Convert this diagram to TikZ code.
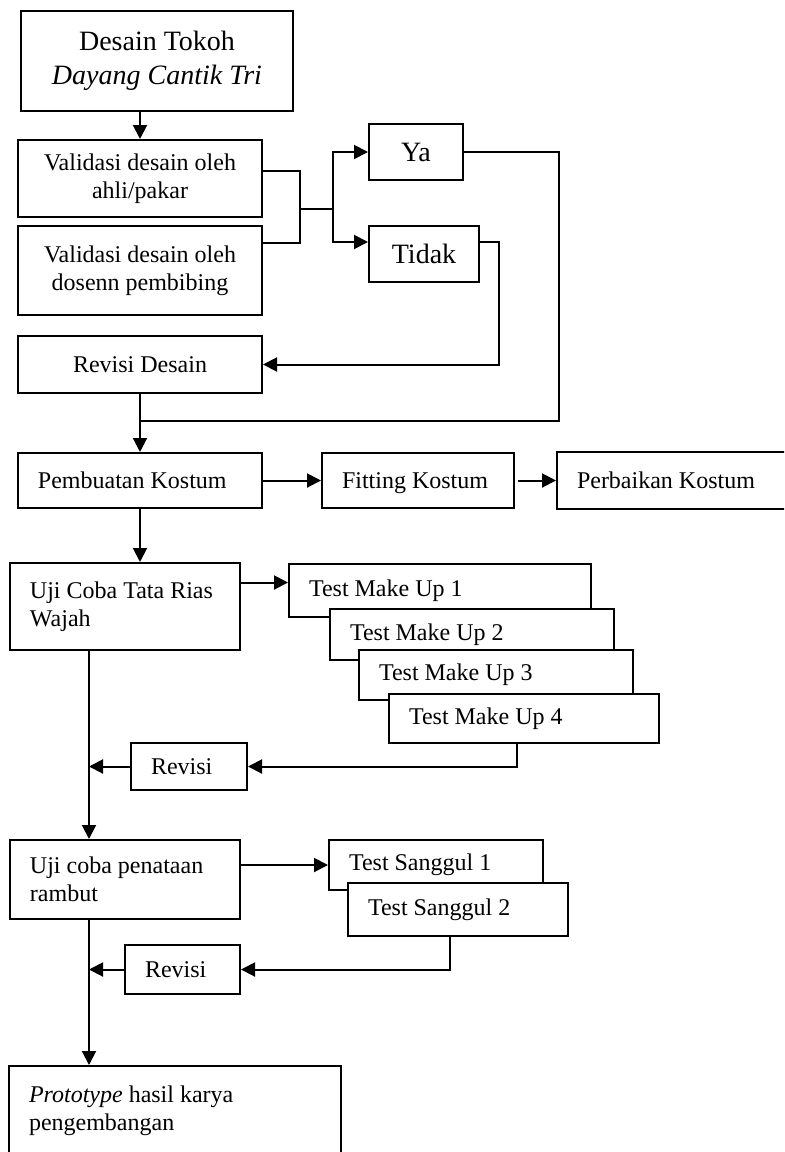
\documentclass[tikz,border=0pt]{standalone}
\usepackage{fontspec}
\setmainfont{Liberation Serif}
\usetikzlibrary{arrows.meta,positioning}

\begin{document}
\begin{tikzpicture}[x=0.5pt, y=-0.5pt,
  box/.style={draw, line width=1pt, fill=white, inner sep=0pt, anchor=north west, align=center, font=\fontsize{12}{14}\selectfont},
  lbox/.style={box, align=flush left, inner xsep=10pt},
  big/.style={font=\fontsize{14}{17}\selectfont},
  line/.style={line width=1pt},
  arr/.style={line width=1pt, -{Triangle[length=7pt,width=7pt]}}
]
  \clip (0,0) rectangle (784,1152);

  \node[box, big, minimum width=136pt, minimum height=50pt] (tokoh) at (20,10) {Desain Tokoh\\\textit{Dayang Cantik Tri}};
  \node[box, minimum width=122pt, minimum height=38.5pt] (ahli) at (17,139) {Validasi desain oleh\\ahli/pakar};
  \node[box, minimum width=122pt, minimum height=44.5pt] (dosen) at (17,225) {Validasi desain oleh\\dosenn pembibing};
  \node[box, big, minimum width=47pt, minimum height=28pt] (ya) at (368,123) {Ya};
  \node[box, big, minimum width=55pt, minimum height=28pt] (tidak) at (368,225) {Tidak};
  \node[box, minimum width=122pt, minimum height=28.5pt] (revdesain) at (17,335) {Revisi Desain};

  \node[lbox, text width=102pt, minimum height=27.5pt] (buat) at (17,452) {Pembuatan Kostum};
  \node[lbox, text width=76pt, text depth=0pt, minimum height=27.5pt] (fitting) at (321,452) {Fitting Kostum};
  \node[lbox, text width=110pt, minimum height=28.5pt] (perbaikan) at (556,451) {Perbaikan Kostum};

  \node[lbox, text width=95pt, minimum height=43.5pt] (rias) at (9,562) {Uji Coba Tata Rias\\Wajah};
  \node[lbox, text width=131pt, minimum height=26.5pt] (mu1) at (288,563) {Test Make Up 1};
  \node[lbox, text width=122pt, minimum height=25.5pt] (mu2) at (329,608) {Test Make Up 2};
  \node[lbox, text width=117pt, minimum height=25pt] (mu3) at (358,649) {Test Make Up 3};
  \node[lbox, text width=115pt, minimum height=24.5pt] (mu4) at (388,693) {Test Make Up 4};
  \node[lbox, text width=38pt, minimum height=23.5pt] (rev1) at (130,742) {Revisi};

  \node[lbox, text width=95pt, minimum height=39.5pt] (rambut) at (9,839) {Uji coba penataan\\rambut};
  \node[lbox, text width=87pt, minimum height=25pt] (sg1) at (328,839) {Test Sanggul 1};
  \node[lbox, text width=90pt, minimum height=26.5pt] (sg2) at (347,882) {Test Sanggul 2};
  \node[lbox, text width=37.5pt, minimum height=24.5pt] (rev2) at (124,944) {Revisi};

  \node[lbox, text width=146pt, minimum height=56pt] (proto) at (8,1065) {\textit{Prototype} hasil karya\\pengembangan\\\mbox{}};

  \coordinate (spine) at (89,0);
  \coordinate (j1) at (300,209);
  \coordinate (j2) at (333,209);
  \coordinate (merge) at (0,421);

  \draw[arr] (tokoh.south -| ahli.north) -- (ahli.north);
  \draw[line] ([yshift=4pt]ahli.east) -| (j1) |- ([yshift=14pt]dosen.east);
  \draw[line] (j1) -- (j2);
  \draw[arr] (j2) |- (ya.west);
  \draw[arr] (j2) |- ([yshift=6pt]tidak.west);
  \draw[arr] ([yshift=6pt]tidak.east) -- ++(19,0) |- (revdesain.east);
  \draw[line] (ya.east) -- ++(95,0) |- (revdesain.south |- merge);
  \draw[arr] (revdesain.south) -- (buat.north);

  \draw[arr] (buat.east) -- (fitting.west);
  \draw[arr] ([xshift=1.5pt]fitting.east) -- (perbaikan.west);
  \draw[arr] (buat.south) -- (buat.south |- rias.north);

  \draw[arr] ([yshift=4pt]mu1.west -| rias.east) -- ([yshift=4pt]mu1.west);
  \draw[arr] ([xshift=-3.5pt]mu4.south) |- (rev1.east);
  \draw[arr] (rev1.west) -- (rev1.west -| spine);
  \draw[arr] (rias.south -| spine) -- (rambut.north -| spine);

  \draw[arr] (sg1.west -| rambut.east) -- (sg1.west);
  \draw[arr] ([xshift=-4pt]sg2.south) |- (rev2.east);
  \draw[arr] (rev2.west) -- (rev2.west -| spine);
  \draw[arr] (rambut.south -| spine) -- (proto.north -| spine);
\end{tikzpicture}
\end{document}
